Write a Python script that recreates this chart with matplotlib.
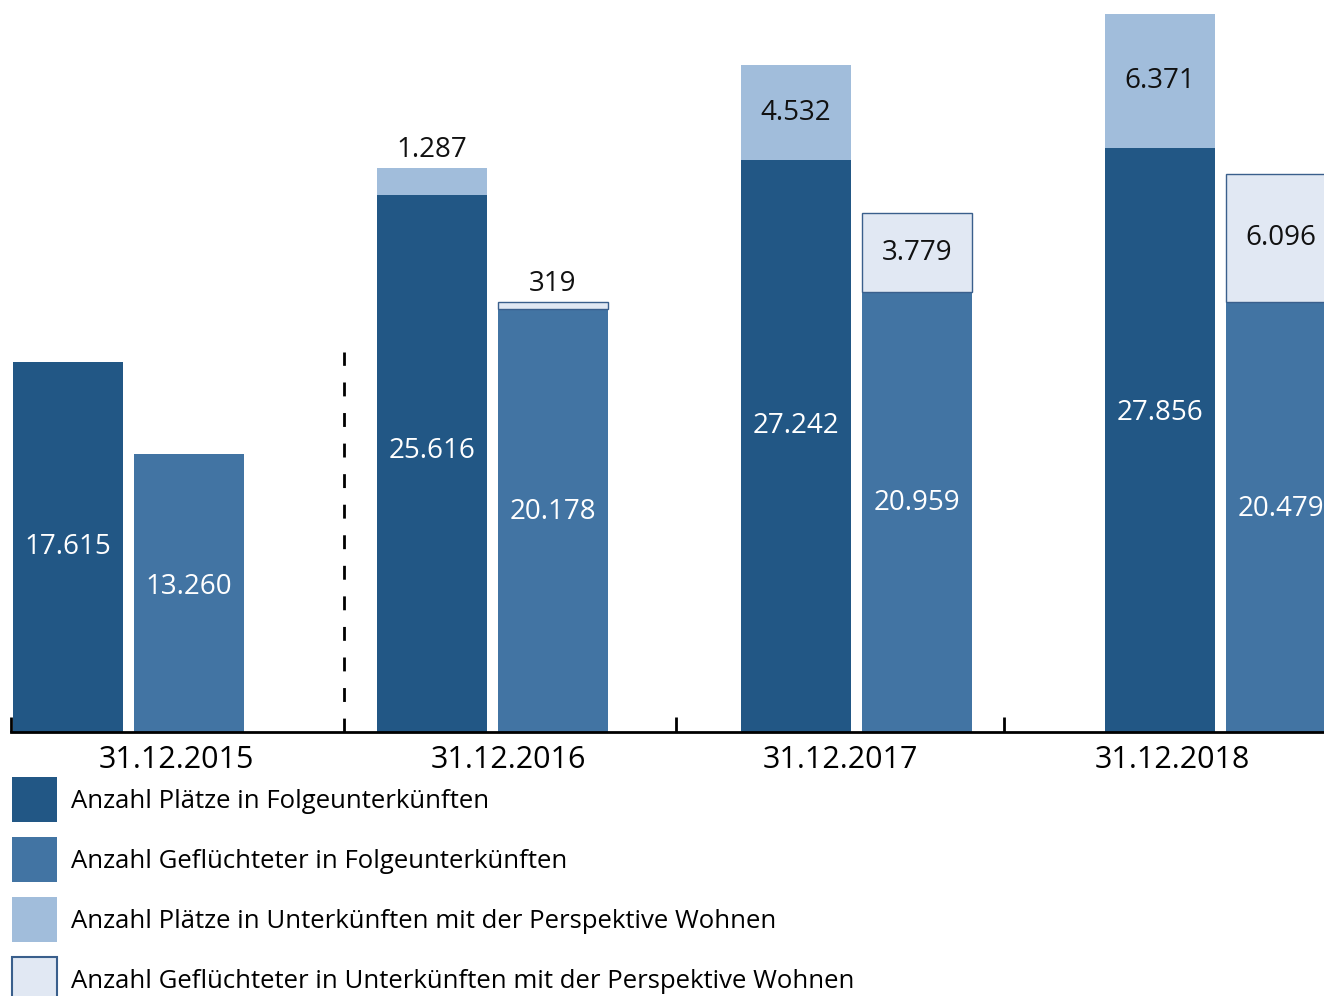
import matplotlib
matplotlib.use('Agg')
import matplotlib.pyplot as plt
from matplotlib.patches import Patch

plt.rcParams['font.family'] = ['Open Sans', 'DejaVu Sans']
plt.rcParams['lines.scale_dashes'] = False

# data
dates = ['31.12.2015', '31.12.2016', '31.12.2017', '31.12.2018']
plaetze_fu = [17615, 25616, 27242, 27856]
gefl_fu = [13260, 20178, 20959, 20479]
plaetze_pw = [0, 1287, 4532, 6371]
gefl_pw = [0, 319, 3779, 6096]
legend_labels = [
    'Anzahl Plätze in Folgeunterkünften',
    'Anzahl Geflüchteter in Folgeunterkünften',
    'Anzahl Plätze in Unterkünften mit der Perspektive Wohnen',
    'Anzahl Geflüchteter in Unterkünften mit der Perspektive Wohnen',
]

c_dark = '#225785'
c_mid = '#4274a3'
c_light = '#a1bddb'
c_pale = '#e1e8f3'
c_edge = '#3a5f8c'

# layout helpers (x in group units)
bar_w = 0.331
bar_start = -0.329
bar_step = 1.0974
pair_off = 0.3645
dark_frac = [0.50, 0.523, 0.535, 0.546]
mid_frac = 0.52
val_fs = 20


def fmt(v):
    return f"{v:,}".replace(',', '.')


fig = plt.figure(figsize=(13.24, 9.96), dpi=100)
ax = fig.add_axes([11 / 1324, 264 / 996, 1313 / 1324, 732 / 996])
ax.set_xlim(-0.5, 3.458)
ax.set_ylim(0, 34890)

for i in range(len(dates)):
    x1 = bar_start + i * bar_step
    x2 = x1 + pair_off
    ax.bar(x1, plaetze_fu[i], width=bar_w, color=c_dark, linewidth=0)
    ax.bar(x2, gefl_fu[i], width=bar_w, color=c_mid, linewidth=0)
    if plaetze_pw[i] > 0:
        ax.bar(x1, plaetze_pw[i], bottom=plaetze_fu[i], width=bar_w,
               color=c_light, linewidth=0)
    if gefl_pw[i] > 0:
        ax.bar(x2, gefl_pw[i], bottom=gefl_fu[i], width=bar_w,
               color=c_pale, edgecolor=c_edge, linewidth=1.0)

    ax.text(x1, plaetze_fu[i] * dark_frac[i], fmt(plaetze_fu[i]),
            ha='center', va='center', color='white', fontsize=val_fs)
    ax.text(x2, gefl_fu[i] * mid_frac, fmt(gefl_fu[i]),
            ha='center', va='center', color='white', fontsize=val_fs)

    for x, base, top in [(x1, plaetze_fu[i], plaetze_pw[i]),
                         (x2, gefl_fu[i], gefl_pw[i])]:
        if top == 0:
            continue
        if top < 2000:
            ax.text(x, base + top + 860, fmt(top), ha='center', va='center',
                    color='#111111', fontsize=val_fs)
        else:
            ax.text(x, base + top / 2, fmt(top), ha='center', va='center',
                    color='#111111', fontsize=val_fs)

# dashed separator between 2015 and 2016
ax.vlines(0.503, 0, 18100, colors='black', linewidth=2.0,
          linestyles=(0, (10, 12)))

for s in ['top', 'right', 'left']:
    ax.spines[s].set_visible(False)
ax.spines['bottom'].set_linewidth(2.0)
ax.spines['bottom'].set_color('black')
ax.set_yticks([])

ax.set_xticks([-0.5, 1.506, 2.494])
ax.set_xticklabels([])
ax.tick_params(axis='x', which='major', direction='in', length=11,
               width=2.0, color='black')
ax.set_xticks(range(len(dates)), minor=True)
ax.set_xticklabels(dates, minor=True, fontsize=22)
ax.tick_params(axis='x', which='minor', length=0, pad=9)

handles = [
    Patch(facecolor=c_dark, edgecolor='none'),
    Patch(facecolor=c_mid, edgecolor='none'),
    Patch(facecolor=c_light, edgecolor='none'),
    Patch(facecolor=c_pale, edgecolor=c_edge, linewidth=1.5),
]
fig.legend(handles, legend_labels, loc='upper left',
           bbox_to_anchor=(12 / 1324, 1 - 777 / 996), frameon=False,
           fontsize=18.5, handlelength=1.75, handleheight=2.33,
           handletextpad=0.55, labelspacing=0.575, borderpad=0,
           borderaxespad=0)

fig.savefig('out.png', dpi=100)
